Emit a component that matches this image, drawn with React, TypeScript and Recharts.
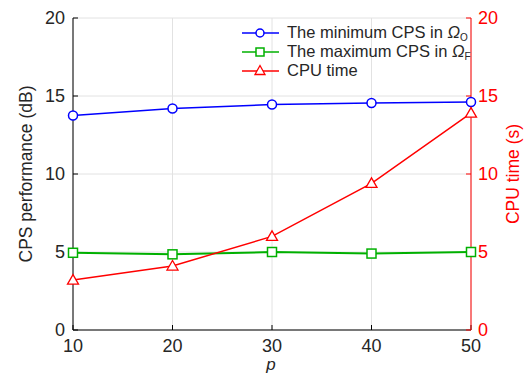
import React from "react";
import {
  ComposedChart,
  Line,
  XAxis,
  YAxis,
  CartesianGrid,
} from "recharts";

// sweep over p
const pValues = [10, 20, 30, 40, 50];
// minimum CPS in Omega_O (dB), left axis
const minCps = [13.75, 14.2, 14.45, 14.55, 14.62];
// maximum CPS in Omega_F (dB), left axis
const maxCps = [4.95, 4.85, 5.0, 4.9, 5.0];
// CPU time (s), right axis
const cpuTime = [3.2, 4.1, 6.0, 9.4, 13.9];

const xTicks = [10, 20, 30, 40, 50];
const yTicks = [0, 5, 10, 15, 20];

const data = pValues.map((p, i) => ({
  p,
  minCps: minCps[i],
  maxCps: maxCps[i],
  cpu: cpuTime[i],
}));

const FONT = "'Liberation Sans', Arial, sans-serif";
const TEXT = "#262626";
const BLUE = "#0000ff";
const GREEN = "#00b000";
const RED = "#ff0000";

const CircleDot = (props: any) => {
  const { cx, cy } = props;
  if (cx == null || cy == null) return null;
  return <circle cx={cx} cy={cy} r={4.5} fill="#fff" stroke={BLUE} strokeWidth={1.5} />;
};

const SquareDot = (props: any) => {
  const { cx, cy } = props;
  if (cx == null || cy == null) return null;
  return (
    <rect x={cx - 4.5} y={cy - 4.5} width={9} height={9} fill="#fff" stroke={GREEN} strokeWidth={1.5} />
  );
};

const TriangleDot = (props: any) => {
  const { cx, cy } = props;
  if (cx == null || cy == null) return null;
  return (
    <polygon
      points={`${cx},${cy - 5.5} ${cx - 5.5},${cy + 4} ${cx + 5.5},${cy + 4}`}
      fill="#fff"
      stroke={RED}
      strokeWidth={1.3}
    />
  );
};

function LegendMarker({ kind, color }: { kind: string; color: string }) {
  return (
    <svg width={40} height={14} style={{ display: "block" }}>
      <line x1={1} y1={7} x2={38} y2={7} stroke={color} strokeWidth={1.5} />
      {kind === "circle" && <circle cx={19} cy={7} r={4} fill="#fff" stroke={color} strokeWidth={1.5} />}
      {kind === "square" && <rect x={15} y={3} width={8} height={8} fill="#fff" stroke={color} strokeWidth={1.5} />}
      {kind === "triangle" && (
        <polygon points="19,1.5 14,10.5 24,10.5" fill="#fff" stroke={color} strokeWidth={1.3} />
      )}
    </svg>
  );
}

const legendRows = [
  { kind: "circle", color: BLUE, text: "The minimum CPS in ", sym: "Ω", sub: "O" },
  { kind: "square", color: GREEN, text: "The maximum CPS in ", sym: "Ω", sub: "F" },
  { kind: "triangle", color: RED, text: "CPU time", sym: "", sub: "" },
];

export default function App() {
  return (
    <div style={{ position: "absolute", left: 0, top: 0, width: 524, height: 374, background: "#fff" }}>
      <ComposedChart
        width={524}
        height={374}
        data={data}
        margin={{ top: 18, right: 0, bottom: 0, left: 0 }}
        style={{ fontFamily: FONT }}
      >
        <CartesianGrid xAxisId="bottom" yAxisId="left" stroke="#e2e2e2" strokeWidth={1} />
        <XAxis
          xAxisId="bottom"
          dataKey="p"
          type="number"
          domain={[10, 50]}
          ticks={xTicks}
          height={44}
          tickSize={-5}
          tickMargin={14}
          stroke="#000"
          tick={{ fill: TEXT, fontSize: 18 }}
          label={(props: any) => {
            const vb = props.viewBox;
            return (
              <text
                x={vb.x + vb.width / 2 - 1}
                y={370}
                textAnchor="middle"
                fontSize={17}
                fontStyle="italic"
                fill={TEXT}
              >
                p
              </text>
            );
          }}
        />
        <XAxis
          xAxisId="top"
          orientation="top"
          dataKey="p"
          type="number"
          domain={[10, 50]}
          ticks={xTicks}
          height={0}
          tickSize={-5}
          tick={false}
          stroke="#000"
        />
        <YAxis
          yAxisId="left"
          domain={[0, 20]}
          ticks={yTicks}
          width={73}
          tickSize={-5}
          tickMargin={13}
          stroke="#000"
          tick={{ fill: TEXT, fontSize: 18 }}
          label={(props: any) => {
            const vb = props.viewBox;
            const cx = 26;
            const cy = vb.y + vb.height / 2;
            return (
              <text
                x={cx}
                y={cy}
                transform={`rotate(-90, ${cx}, ${cy})`}
                textAnchor="middle"
                dominantBaseline="central"
                fontSize={17.5}
                fill={TEXT}
              >
                CPS performance (dB)
              </text>
            );
          }}
        />
        <YAxis
          yAxisId="right"
          orientation="right"
          domain={[0, 20]}
          ticks={yTicks}
          width={53}
          tickSize={-5}
          tickMargin={12}
          stroke={RED}
          tick={{ fill: RED, fontSize: 18 }}
          label={(props: any) => {
            const vb = props.viewBox;
            const cx = 513;
            const cy = vb.y + vb.height / 2;
            return (
              <text
                x={cx}
                y={cy}
                transform={`rotate(-90, ${cx}, ${cy})`}
                textAnchor="middle"
                dominantBaseline="central"
                fontSize={17.5}
                fill={RED}
              >
                CPU time (s)
              </text>
            );
          }}
        />
        <Line
          xAxisId="bottom"
          yAxisId="left"
          type="linear"
          dataKey="minCps"
          stroke={BLUE}
          strokeWidth={1.5}
          dot={<CircleDot />}
          activeDot={false}
          isAnimationActive={false}
        />
        <Line
          xAxisId="bottom"
          yAxisId="left"
          type="linear"
          dataKey="maxCps"
          stroke={GREEN}
          strokeWidth={2}
          dot={<SquareDot />}
          activeDot={false}
          isAnimationActive={false}
        />
        <Line
          xAxisId="bottom"
          yAxisId="right"
          type="linear"
          dataKey="cpu"
          stroke={RED}
          strokeWidth={1.5}
          dot={<TriangleDot />}
          activeDot={false}
          isAnimationActive={false}
        />
      </ComposedChart>
      <div
        style={{
          position: "absolute",
          left: 241,
          top: 23,
          fontFamily: FONT,
          fontSize: 16.5,
          color: TEXT,
          lineHeight: "19px",
        }}
      >
        {legendRows.map((r) => (
          <div key={r.text} style={{ display: "flex", alignItems: "center", height: 19 }}>
            <LegendMarker kind={r.kind} color={r.color} />
            <span style={{ marginLeft: 6, whiteSpace: "nowrap" }}>
              {r.text}
              {r.sym && <span style={{ fontStyle: "italic" }}>{r.sym}</span>}
              {r.sub && <sub style={{ fontSize: 10, verticalAlign: "-3px", lineHeight: 0 }}>{r.sub}</sub>}
            </span>
          </div>
        ))}
      </div>
    </div>
  );
}
